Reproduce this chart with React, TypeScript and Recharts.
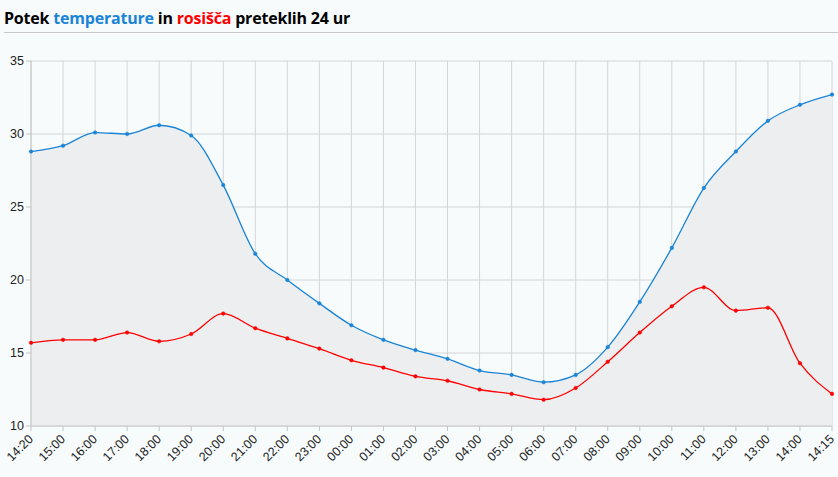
import React from 'react';
import { ComposedChart, Area, Line, XAxis, YAxis, CartesianGrid } from 'recharts';

// časovne oznake (os X)
const times = [
  '14:20', '15:00', '16:00', '17:00', '18:00', '19:00', '20:00', '21:00', '22:00',
  '23:00', '00:00', '01:00', '02:00', '03:00', '04:00', '05:00', '06:00', '07:00',
  '08:00', '09:00', '10:00', '11:00', '12:00', '13:00', '14:00', '14:15',
];

// temperatura zraka (°C)
const temperature = [
  28.8, 29.2, 30.1, 30.0, 30.6, 29.9, 26.5, 21.8, 20.0, 18.4, 16.9, 15.9, 15.2,
  14.6, 13.8, 13.5, 13.0, 13.5, 15.4, 18.5, 22.2, 26.3, 28.8, 30.9, 32.0, 32.7,
];

// rosišče (°C)
const dewPoint = [
  15.7, 15.9, 15.9, 16.4, 15.8, 16.3, 17.7, 16.7, 16.0, 15.3, 14.5, 14.0, 13.4,
  13.1, 12.5, 12.2, 11.8, 12.6, 14.4, 16.4, 18.2, 19.5, 17.9, 18.1, 14.3, 12.2,
];

const yTicks = [10, 15, 20, 25, 30, 35];

const BLUE = '#1a84d6';
const RED = '#ff0000';

const chartData = times.map((time, i) => ({
  time,
  temp: temperature[i],
  dew: dewPoint[i],
}));

const XTick = (props: any) => {
  const { x, y, payload } = props;
  return (
    <g transform={`translate(${x},${y + 4})`}>
      <text
        textAnchor="end"
        transform="rotate(-45)"
        fontSize={12.5}
        fill="#222"
        fontFamily="'Liberation Sans', Arial, sans-serif"
        dy={4}
      >
        {payload.value}
      </text>
    </g>
  );
};

export default function App() {
  return (
    <div style={{ position: 'relative', width: 838, height: 477, background: '#f7fbfc', overflow: 'hidden' }}>
      <style>{`body{margin:0}`}</style>
      <div
        style={{
          position: 'absolute',
          left: 4,
          top: 7,
          fontFamily: "'Open Sans', sans-serif",
          fontWeight: 700,
          fontSize: 16,
          letterSpacing: -0.2,
          color: '#000',
          whiteSpace: 'nowrap',
        }}
      >
        Potek <span style={{ color: BLUE }}>temperature</span> in{' '}
        <span style={{ color: RED }}>rosišča</span> preteklih 24 ur
      </div>
      <div style={{ position: 'absolute', left: 4, right: 0, top: 32, height: 1, background: '#c8c8c8' }} />
      <ComposedChart
        width={838}
        height={477}
        data={chartData}
        margin={{ top: 61, right: 6, bottom: 0, left: 0 }}
        style={{ position: 'absolute', left: 0, top: 0 }}
      >
        <CartesianGrid stroke="#d2d6d8" vertical horizontal />
        <XAxis
          dataKey="time"
          interval={0}
          height={51}
          stroke="#c4c4c4"
          tickSize={5}
          tick={<XTick />}
        />
        <YAxis
          domain={[10, 35]}
          ticks={yTicks}
          width={31}
          stroke="#c4c4c4"
          tickSize={5}
          tick={{ fontSize: 12.5, fill: '#222', fontFamily: "'Liberation Sans', Arial, sans-serif" }}
        />
        <Area
          type="monotone"
          dataKey="temp"
          stroke={BLUE}
          strokeWidth={1.3}
          fill="#eceeef"
          fillOpacity={1}
          dot={{ r: 1.8, fill: BLUE, stroke: BLUE, strokeWidth: 0.5 }}
          activeDot={false}
          isAnimationActive={false}
        />
        <Line
          type="monotone"
          dataKey="dew"
          stroke={RED}
          strokeWidth={1.3}
          dot={{ r: 1.8, fill: RED, stroke: RED, strokeWidth: 0.5 }}
          activeDot={false}
          isAnimationActive={false}
        />
      </ComposedChart>
    </div>
  );
}
